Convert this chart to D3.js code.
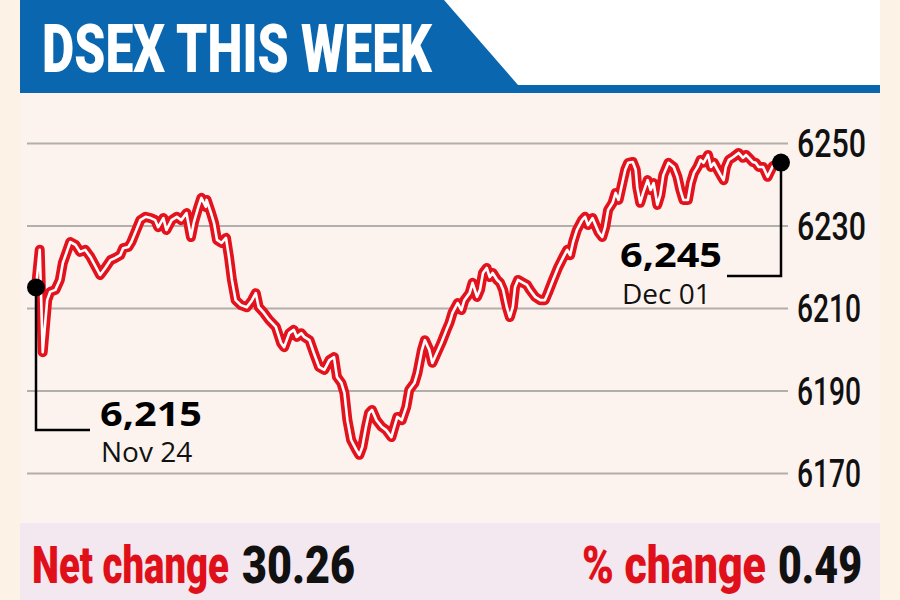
<!DOCTYPE html>
<html>
<head>
<meta charset="utf-8">
<script src="https://cdn.jsdelivr.net/npm/d3@7"></script>
<style>
  html, body { margin: 0; padding: 0; background: #fdf2e6; }
  svg { display: block; }
</style>
</head>
<body>
<svg id="chart" width="900" height="600"></svg>
<script>
// ---- DATA ----
const title = "DSEX THIS WEEK";
// position within the trading week (0 = Nov 24 open, 100 = Dec 01 close)
const times = [0,0.5,0.9,1.5,1.9,2.6,3.2,3.6,4.6,5.3,5.9,6.6,7.3,7.9,8.6,9.3,10.0,10.6,11.3,11.7,12.4,12.8,13.3,14.0,14.7,15.4,16.0,16.4,17.1,17.5,18.2,18.9,19.5,20.2,20.8,21.2,21.8,22.2,22.8,22.9,23.5,23.9,24.3,24.9,25.5,25.9,26.3,26.8,27.5,28.3,29.0,29.5,29.9,30.6,31.3,32.2,32.9,33.3,34.0,34.6,35.0,35.6,36.0,36.7,37.3,38.0,38.7,39.4,40.0,40.4,41.0,41.4,41.8,42.3,43.0,43.4,43.8,44.3,44.7,45.1,45.7,46.4,47.0,47.7,48.1,48.5,49.1,49.7,50.1,50.8,51.2,51.8,52.2,52.8,53.2,53.8,54.4,55.1,55.5,55.9,56.6,57.1,57.5,58.2,58.6,59.2,59.6,60.0,60.5,60.9,61.3,61.9,62.3,62.7,63.2,63.6,64.0,64.3,64.7,65.4,65.9,66.3,67.0,67.7,68.3,68.7,69.4,70.1,70.8,71.3,71.7,72.1,72.6,73.3,73.7,74.1,74.7,75.1,75.5,76.0,76.4,76.8,77.4,77.8,78.2,78.7,79.1,79.5,80.1,80.5,80.7,81.1,81.5,82.1,82.5,82.9,83.4,83.8,84.2,84.9,85.6,86.1,86.5,86.9,87.5,87.9,88.3,88.8,89.2,89.6,90.2,90.6,91.0,91.5,91.9,92.3,92.6,93.0,93.6,94.3,94.9,95.3,95.7,96.2,96.6,97.0,97.6,98.2,98.9,99.7,100];
const values = [6215,6224.1,6199.3,6211.9,6213.9,6214.4,6216.8,6220.9,6226.0,6225.3,6223.6,6224.1,6222.4,6220.4,6218.0,6219.7,6221.6,6222.1,6222.8,6224.5,6224.8,6226.0,6228.2,6231.3,6232.1,6231.8,6231.3,6229.6,6231.8,6228.9,6231.3,6232.1,6231.3,6233.0,6227.2,6230.8,6234.5,6236.7,6234.5,6236.2,6233.0,6230.6,6226.5,6225.8,6227.0,6222.4,6216.8,6211.9,6210.7,6210.2,6211.9,6213.6,6210.2,6208.8,6207.1,6205.4,6201.5,6200.5,6203.9,6204.7,6203.0,6203.9,6203.0,6202.2,6199.1,6195.7,6195.0,6197.4,6198.1,6193.3,6191.8,6189.4,6182.8,6178.0,6175.6,6174.4,6176.3,6181.2,6184.5,6185.3,6182.8,6181.2,6180.4,6178.7,6181.2,6183.6,6182.8,6186.0,6190.1,6191.8,6194.2,6199.8,6202.2,6199.8,6196.7,6199.1,6201.5,6204.7,6206.4,6208.8,6211.2,6209.5,6211.9,6213.6,6216.1,6212.7,6214.4,6218.5,6219.7,6217.5,6218.5,6216.8,6216.1,6214.4,6210.2,6207.8,6210.2,6215.1,6216.8,6216.1,6215.6,6214.4,6212.7,6211.9,6211.9,6213.6,6216.8,6219.9,6222.4,6224.1,6222.8,6226.0,6228.9,6231.3,6232.1,6230.1,6231.8,6230.1,6228.4,6227.2,6229.6,6233.8,6235.5,6237.9,6236.2,6240.3,6243.5,6245.2,6245.4,6243.5,6239.3,6235.5,6237.9,6241.0,6238.6,6240.3,6235.0,6237.4,6242.2,6245.2,6244.2,6241.8,6238.6,6236.2,6236.2,6240.3,6242.7,6244.2,6245.9,6245.2,6247.1,6244.2,6245.2,6243.5,6242.2,6241.0,6244.2,6245.9,6246.6,6247.6,6246.4,6247.1,6246.4,6245.4,6245.2,6244.2,6244.2,6241.8,6244.4,6245.2,6245.26];
const yTicks = [6170, 6190, 6210, 6230, 6250];
const startLabel = { value: "6,215", date: "Nov 24" };
const endLabel = { value: "6,245", date: "Dec 01" };
const netChange = { label: "Net change", value: "30.26" };
const pctChange = { label: "% change", value: "0.49" };

// ---- DRAW ----
const svg = d3.select("#chart");
const W = 900, H = 600;

// helper: text squeezed horizontally to a target width via a scale transform
function squeezedText(txt, xPos, yPos, width, font) {
  const t = svg.append("text").text(txt)
    .attr("font-family", font.family).attr("font-weight", font.weight)
    .attr("font-size", font.size).attr("fill", font.fill);
  const natural = t.node().getComputedTextLength();
  const sx = width / natural;
  t.attr("transform", `translate(${xPos},${yPos}) scale(${sx},1)`);
  return t;
}

// backgrounds
svg.append("rect").attr("x", 0).attr("y", 0).attr("width", W).attr("height", H).attr("fill", "#fdf2e6");
svg.append("rect").attr("x", 20).attr("y", 93).attr("width", 860).attr("height", 430).attr("fill", "#fcf3ee");
svg.append("rect").attr("x", 20).attr("y", 523).attr("width", 860).attr("height", 77).attr("fill", "#f3e8ef");

// header
svg.append("rect").attr("x", 20).attr("y", 0).attr("width", 860).attr("height", 93).attr("fill", "#0b66b0");
svg.append("polygon").attr("points", "444,0 880,0 880,85 518,85").attr("fill", "#ffffff");
squeezedText(title, 42, 72, 390, { family: "Roboto", weight: 900, size: 66, fill: "#ffffff" });

// scales
const x = d3.scaleLinear().domain([0, 100]).range([36, 781]);
const y = d3.scaleLinear().domain([6170, 6250]).range([473, 143]);

// y axis with gridlines
const axis = d3.axisRight(y).tickValues(yTicks).tickSize(-761).tickPadding(9).tickFormat(d3.format("d"));
const gAxis = svg.append("g").attr("transform", "translate(788,0)").call(axis);
gAxis.select(".domain").remove();
gAxis.selectAll(".tick line").attr("stroke", "#b2aeab").attr("stroke-width", 2);
gAxis.selectAll(".tick text")
  .attr("font-family", "Roboto").attr("font-weight", 500).attr("font-size", 38)
  .attr("fill", "#111").attr("dy", "0.36em")
  .attr("textLength", d => String(d).indexOf("1") >= 0 ? 64 : 69)
  .attr("lengthAdjust", "spacingAndGlyphs");

// line
const data = times.map((t, i) => ({ t, v: values[i] }));
const line = d3.line().x(d => x(d.t)).y(d => y(d.v)).curve(d3.curveLinear);
svg.append("path").datum(data).attr("d", line)
  .attr("fill", "none").attr("stroke", "#e3121c").attr("stroke-width", 10)
  .attr("stroke-linejoin", "round").attr("stroke-linecap", "round");
svg.append("path").datum(data).attr("d", line)
  .attr("fill", "none").attr("stroke", "#ffffff").attr("stroke-width", 2.6)
  .attr("stroke-linejoin", "round").attr("stroke-linecap", "round");

// annotations
const first = data[0], last = data[data.length - 1];
const sx = x(first.t), sy = y(first.v);
svg.append("path").attr("d", `M${sx},${sy} V430 H90`)
  .attr("fill", "none").attr("stroke", "#000").attr("stroke-width", 2.5);
svg.append("circle").attr("cx", sx).attr("cy", sy).attr("r", 9).attr("fill", "#000");
svg.append("text").text(startLabel.value).attr("x", 100).attr("y", 426)
  .attr("font-family", "Open Sans").attr("font-weight", 700).attr("font-size", 34).attr("fill", "#000")
  .attr("textLength", 102).attr("lengthAdjust", "spacingAndGlyphs");
svg.append("text").text(startLabel.date).attr("x", 101).attr("y", 462)
  .attr("font-family", "Open Sans").attr("font-weight", 400).attr("font-size", 28).attr("fill", "#111");

const ex = x(last.t), ey = y(last.v);
svg.append("path").attr("d", `M${ex},${ey} V276 H727`)
  .attr("fill", "none").attr("stroke", "#000").attr("stroke-width", 2.5);
svg.append("circle").attr("cx", ex).attr("cy", ey).attr("r", 9).attr("fill", "#000");
svg.append("text").text(endLabel.value).attr("x", 620).attr("y", 267)
  .attr("font-family", "Open Sans").attr("font-weight", 700).attr("font-size", 34).attr("fill", "#000")
  .attr("textLength", 102).attr("lengthAdjust", "spacingAndGlyphs");
svg.append("text").text(endLabel.date).attr("x", 622).attr("y", 304)
  .attr("font-family", "Open Sans").attr("font-weight", 400).attr("font-size", 28).attr("fill", "#111");

// bottom strip
const bottomFont = c => ({ family: "Roboto", weight: 900, size: 51, fill: c });
squeezedText(netChange.label, 32, 583, 197, bottomFont("#e0101b"));
squeezedText(netChange.value, 242, 583, 113, bottomFont("#111"));
squeezedText(pctChange.label, 582, 583, 184, bottomFont("#e0101b"));
squeezedText(pctChange.value, 778, 583, 84, bottomFont("#111"));
</script>
</body>
</html>
